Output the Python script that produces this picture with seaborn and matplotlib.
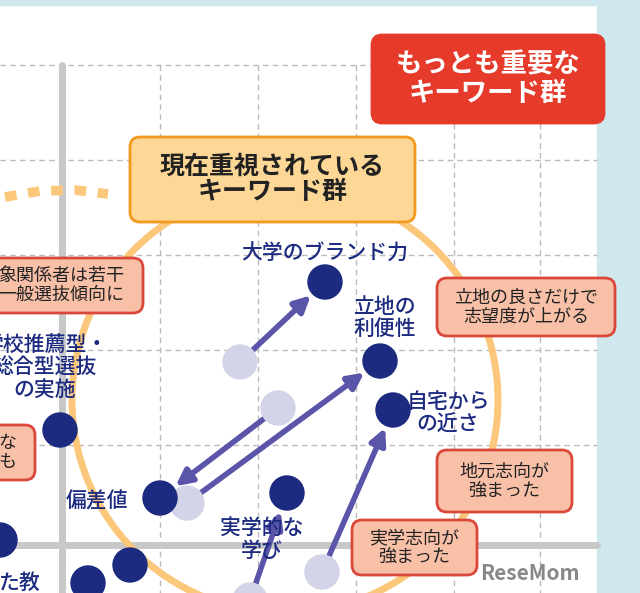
import matplotlib
matplotlib.use("Agg")
import matplotlib.pyplot as plt
import seaborn as sns
import pandas as pd
from matplotlib.patches import Circle, FancyBboxPatch, Rectangle

sns.set_theme(style="white")
plt.rcParams['font.family'] = ['Noto Sans CJK JP', 'DejaVu Sans']

names = ["大学のブランド力", "立地の\n利便性", "自宅から\nの近さ", "学校推薦型・\n総合型選抜\nの実施", "偏差値", "実学的な\n学び", "", "", ""]
new_x = [325, 380, 393, 60, 160, 287, 130, 88, 0]
new_y = [282, 361, 410, 430, 498, 493, 565, 583, 540]
old_x = [240, 187, 322, None, 278, 250, None, None, None]
old_y = [362, 503, 572, None, 408, 600, None, None, None]

fig = plt.figure(figsize=(6.4, 5.93), dpi=100)
ax = fig.add_axes([0, 0, 1, 1])
fig.patch.set_facecolor("white")
ax.add_patch(Rectangle((597, 0), 43, 593, color="#cfe8ee", zorder=0))
ax.add_patch(Rectangle((0, 0), 640, 5, color="#cfe8ee", zorder=0))
for x in [160, 258, 356, 454, 540]:
    ax.plot([x, x], [65, 593], ls=(0, (4, 3)), color="#bbbbbb", lw=1, zorder=1)
for y in [65, 160, 255, 350, 445]:
    ax.plot([0, 597], [y, y], ls=(0, (4, 3)), color="#bbbbbb", lw=1, zorder=1)
ax.plot([62, 62], [65, 593], color="#c8c8c8", lw=5, zorder=1)
ax.plot([0, 597], [545, 545], color="#c8c8c8", lw=5, zorder=1)

ax.add_patch(Circle((285, 400), 213, fill=False, ec="#fbc77a", lw=5, zorder=2))
ax.plot([5, 40, 75, 108], [197, 191, 190, 194], ls=(0, (1.2, 1.2)), color="#fbc77a", lw=7, zorder=2)

for i in range(len(names)):
    if old_x[i] is not None:
        ax.annotate("", xy=(new_x[i], new_y[i]), xytext=(old_x[i], old_y[i]),
                    arrowprops=dict(arrowstyle="-|>,head_length=0.8,head_width=0.4", color="#5a55a8", lw=4, shrinkA=8, shrinkB=14), zorder=3)
df_new = pd.DataFrame({"x": new_x, "y": new_y})
df_old = pd.DataFrame({"x": [v for v in old_x if v is not None], "y": [v for v in old_y if v is not None]})
sns.scatterplot(data=df_old, x="x", y="y", ax=ax, s=650, color="#d4d4e8", edgecolor="none", zorder=4)
sns.scatterplot(data=df_new, x="x", y="y", ax=ax, s=650, color="#1c2a80", edgecolor="none", zorder=5)
ax.set_xlim(0, 640); ax.set_ylim(593, 0); ax.axis("off")

c = "#1c2a80"
kw = dict(ha="center", va="center", fontsize=15, color=c, fontweight="medium", linespacing=1.05, zorder=6)
ax.text(325, 254, "大学のブランド力", **kw)
ax.text(385, 318, "立地の\n利便性", **kw)
ax.text(448, 413, "自宅から\nの近さ", **kw)
ax.text(45, 368, "学校推薦型・\n総合型選抜\nの実施", **kw)
ax.text(97, 502, "偏差値", **kw)
ax.text(262, 540, "実学的な\n学び", **kw)
ax.text(20, 583, "た教", **kw)

def box(x, y, w, h, txt, fc, ec, tc, fs, bold=False):
    ax.add_patch(FancyBboxPatch((x, y), w, h, boxstyle="round,pad=0,rounding_size=10", fc=fc, ec=ec, lw=2, zorder=7))
    ax.text(x + w / 2, y + h / 2, txt, ha="center", va="center", fontsize=fs, color=tc,
            fontweight="bold" if bold else "normal", linespacing=1.1, zorder=8)

box(372, 35, 232, 88, "もっとも重要な\nキーワード群", "#e63a2a", "#e63a2a", "white", 19, True)
box(130, 137, 285, 85, "現在重視されている\nキーワード群", "#fdd795", "#f39a1e", "#222222", 18, True)
box(-20, 258, 163, 55, "象関係者は若干\n一般選抜傾向に", "#f9c0a8", "#d9483a", "#222", 13)
box(437, 278, 178, 58, "立地の良さだけで\n志望度が上がる", "#f9c0a8", "#d9483a", "#222", 13)
box(437, 450, 135, 62, "地元志向が\n強まった", "#f9c0a8", "#d9483a", "#222", 13)
box(352, 520, 125, 55, "実学志向が\n強まった", "#f9c0a8", "#d9483a", "#222", 13)
box(-20, 425, 55, 55, "な\nも", "#f9c0a8", "#d9483a", "#222", 13)
ax.text(580, 573, "ReseMom", ha="right", va="center", fontsize=15, color="#888888", fontweight="bold", zorder=8)
fig.savefig("out.png", dpi=100)
